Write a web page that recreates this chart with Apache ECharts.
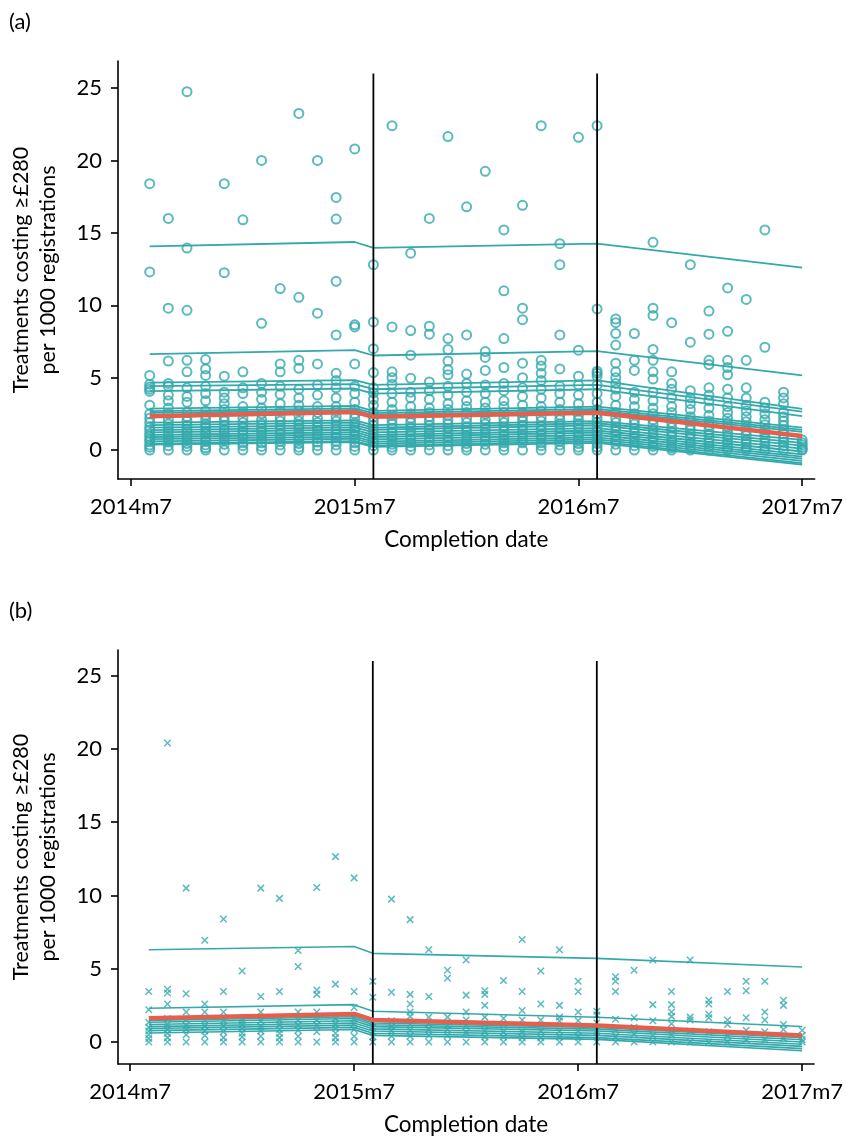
<!DOCTYPE html>
<html><head><meta charset="utf-8">
<script src="https://cdn.jsdelivr.net/npm/echarts@6/dist/echarts.min.js"></script>
<style>html,body{margin:0;padding:0;background:#fff}#c{width:846px;height:1137px}</style>
</head><body><div id="c"></div>
<script>
// ---- axis / tick data ----
const xTickValues = [0, 12, 24, 36];
const xTickLabels = ['2014m7', '2015m7', '2016m7', '2017m7'];
const yTickValues = [0, 5, 10, 15, 20, 25];
const knotMonths = [1, 12, 13, 25, 36];        // 2014m8, 2015m7, 2015m8, 2016m8, 2017m7
const interventionMonths = [13, 25];           // 2015m8, 2016m8
const vlineTop = 26;

// ---- panel (a): monthly observed values (month 1 = 2014m8 ... month 36 = 2017m7) ----
const obsA = [
  [18.4,12.3,5.15,4.55,4.35,4.2,4.05,3.1,2.5,2.2,1.9,1.6,1.4,1.15,0.95,0.75,0.6,0.35,0.2,0],
  [16.0,9.8,6.15,4.6,4.4,3.8,3.4,2.9,2.5,2.1,1.8,1.5,1.3,1.0,0.8,0.55,0.3,0],
  [24.75,13.95,9.65,6.2,5.4,4.3,3.7,3.3,2.6,2.3,2.0,1.7,1.45,1.2,0.95,0.7,0.45,0.25,0],
  [6.25,5.6,5.15,4.4,3.9,3.4,2.7,2.4,2.1,1.8,1.55,1.3,1.1,0.85,0.6,0.35,0.15,0],
  [18.4,12.25,5.1,4.0,3.6,3.2,2.8,2.3,2.0,1.7,1.4,1.2,0.9,0.65,0.4,0],
  [15.9,5.4,4.3,3.9,3.0,2.6,2.2,1.9,1.6,1.3,1.05,0.8,0.5,0.3,0],
  [20.0,8.75,4.6,4.0,3.5,2.9,2.5,2.1,1.8,1.5,1.25,1.0,0.75,0.5,0.25,0],
  [11.15,5.95,5.4,4.4,3.85,3.2,2.7,2.3,2.0,1.7,1.4,1.1,0.85,0.6,0.35,0],
  [23.25,10.55,6.2,5.65,4.2,3.6,3.1,2.7,2.4,2.0,1.75,1.5,1.2,0.95,0.7,0.45,0.2,0],
  [20.0,9.45,5.95,4.5,3.8,3.0,2.6,2.2,1.9,1.6,1.35,1.1,0.8,0.55,0.3,0],
  [17.45,15.95,11.65,7.95,5.3,4.8,4.3,3.6,3.0,2.7,2.3,2.0,1.7,1.4,1.1,0.85,0.6,0.35,0],
  [20.8,8.65,8.5,5.95,4.4,3.9,3.3,2.8,2.5,2.2,1.85,1.55,1.3,1.0,0.75,0.5,0.25,0],
  [12.8,8.85,7.0,5.35,4.3,3.95,3.5,3.1,2.6,2.3,2.0,1.7,1.4,1.1,0.8,0.55,0.3,0],
  [22.4,8.5,5.4,5.0,4.55,3.9,3.3,2.8,2.4,2.1,1.8,1.5,1.2,0.95,0.7,0.4,0.2,0],
  [13.6,8.25,6.55,4.95,4.0,3.6,3.0,2.5,2.2,1.9,1.6,1.3,1.0,0.75,0.5,0.25,0],
  [16.0,8.55,8.0,4.7,4.1,3.5,2.9,2.6,2.3,2.0,1.7,1.4,1.15,0.9,0.6,0.35,0],
  [21.65,7.7,6.95,6.15,5.55,5.2,4.4,3.8,3.2,2.8,2.4,2.1,1.8,1.5,1.2,0.9,0.6,0.3,0],
  [16.8,7.95,5.25,4.6,4.0,3.4,3.0,2.6,2.2,1.9,1.6,1.3,1.0,0.7,0.45,0.2,0],
  [19.25,6.8,6.4,5.5,4.5,3.9,3.3,2.9,2.5,2.1,1.8,1.5,1.2,0.9,0.65,0.4,0],
  [15.2,11.0,7.7,5.7,4.6,4.1,3.4,3.0,2.6,2.2,1.9,1.6,1.3,1.0,0.75,0.5,0.25,0],
  [16.9,9.8,9.0,6.0,5.0,4.3,3.7,3.1,2.6,2.3,2.0,1.7,1.4,1.1,0.8,0.5,0],
  [22.4,6.2,5.8,5.3,4.8,4.2,3.6,3.0,2.7,2.3,2.0,1.65,1.35,1.05,0.8,0.5,0.3,0],
  [14.25,12.8,7.95,5.6,4.4,3.9,3.3,2.8,2.4,2.1,1.8,1.5,1.2,0.9,0.6,0.35,0],
  [21.6,6.9,5.1,4.5,3.8,3.2,2.7,2.4,2.1,1.8,1.5,1.2,0.95,0.7,0.45,0.2,0],
  [22.4,9.75,5.45,5.3,5.1,4.5,3.9,3.3,2.8,2.5,2.2,1.9,1.6,1.3,1.0,0.7,0.45,0.2,0],
  [9.05,8.8,8.05,7.25,6.0,5.4,5.0,4.6,4.2,3.7,3.1,2.6,2.2,1.9,1.6,1.3,1.0,0.7,0.4,0],
  [8.05,6.2,5.5,4.0,3.5,3.0,2.5,2.1,1.8,1.5,1.2,0.9,0.6,0.3,0],
  [14.35,9.8,9.3,6.95,6.2,5.4,4.9,4.0,3.4,2.9,2.5,2.1,1.8,1.45,1.15,0.85,0.55,0.25,0],
  [8.8,5.4,4.6,4.2,3.6,3.0,2.6,2.2,1.9,1.55,1.25,0.95,0.65,0.35,0.15,0],
  [12.8,7.45,4.1,3.6,3.2,2.8,2.3,2.0,1.7,1.4,1.1,0.8,0.5,0.25,0],
  [9.6,8.0,6.2,5.9,4.3,3.8,3.4,2.9,2.4,2.0,1.7,1.4,1.1,0.8,0.5,0.25,0],
  [11.2,8.2,6.2,5.7,5.2,4.2,3.6,3.0,2.6,2.2,1.9,1.6,1.3,1.0,0.7,0.45,0.2,0],
  [10.4,6.2,4.3,3.6,3.1,2.7,2.3,1.95,1.6,1.3,1.0,0.7,0.45,0.2,0],
  [15.2,7.1,3.3,2.9,2.5,2.1,1.75,1.4,1.1,0.8,0.5,0.25,0],
  [4.0,3.6,3.2,2.6,2.3,2.0,1.7,1.4,1.1,0.8,0.55,0.3,0],
  [0.7,0.5,0.35,0.2,0.05,0]
];
// fitted practice lines for (a), values at knotMonths
const fitA = [
  [14.07,14.37,13.96,14.26,12.6],
  [6.62,6.9,6.53,6.83,5.15],
  [4.65,4.83,4.5,4.81,2.85],
  [4.41,4.55,4.2,4.5,2.65],
  [4.07,4.25,3.9,4.2,2.35],
  [2.86,3.05,2.7,3.0,1.55],
  [2.69,2.88,2.55,2.85,1.4],
  [2.57,2.75,2.42,2.72,1.25],
  [1.89,2.05,1.72,2.0,0.7],
  [1.72,1.9,1.55,1.85,0.5],
  [1.55,1.72,1.4,1.7,0.3],
  [1.38,1.56,1.22,1.52,0.1],
  [1.22,1.4,1.05,1.35,-0.1],
  [1.05,1.23,0.9,1.2,-0.3],
  [0.9,1.08,0.74,1.04,-0.45],
  [0.75,0.92,0.58,0.88,-0.6],
  [0.6,0.78,0.44,0.74,-0.75],
  [0.45,0.62,0.3,0.6,-0.9],
  [0.38,0.55,0.22,0.5,-1.0]
];
const meanA = [2.34,2.62,2.3,2.57,0.97];

// ---- panel (b) ----
const obsB = [
  [3.45,2.2,1.35,1.0,0.75,0.5,0.25,0],
  [20.4,3.6,3.35,2.6,1.6,1.2,0.9,0.6,0.3,0],
  [10.5,3.3,2.05,1.55,1.15,0.85,0.5,0],
  [6.95,2.6,2.05,1.45,1.1,0.75,0.45,0],
  [8.4,3.45,2.05,1.45,1.1,0.7,0.3,0],
  [4.85,1.45,1.2,0.9,0.6,0.35,0],
  [10.5,3.1,2.05,1.45,1.05,0.75,0.4,0],
  [9.8,3.45,1.5,1.2,0.85,0.6,0.3,0],
  [6.25,5.15,2.05,1.5,1.15,0.8,0.4,0],
  [10.55,3.55,3.25,2.05,1.5,1.15,0.7,0],
  [12.65,3.95,1.6,1.25,0.95,0.6,0.3,0],
  [11.2,3.45,2.35,1.6,1.25,0.85,0.4,0],
  [4.15,3.05,1.3,1.0,0.7,0.35,0],
  [9.75,3.4,1.45,1.05,0.75,0.4,0],
  [8.35,3.25,2.6,2.05,1.75,1.2,0.8,0.4,0],
  [6.3,3.1,1.7,1.25,0.85,0.45,0],
  [4.9,4.35,1.7,1.15,0.85,0.45,0],
  [5.6,3.2,2.05,1.5,1.1,0.65,0],
  [3.5,3.25,2.5,1.7,1.2,0.75,0.35,0],
  [4.2,1.6,1.2,0.7,0.35,0],
  [7.0,3.45,2.15,1.5,0.7,0.3,0],
  [4.85,2.6,1.5,0.75,0.3,0],
  [6.3,2.5,1.7,1.45,0.75,0.35,0],
  [4.15,3.45,2.05,1.45,0.75,0.35,0],
  [2.1,1.85,1.3,0.75,0.4,0],
  [4.45,4.15,3.45,1.55,0.8,0.35,0],
  [4.9,1.65,1.0,0.55,0],
  [5.6,2.55,1.45,0.45,0],
  [3.45,2.55,2.05,1.75,1.25,0.5,0],
  [5.6,1.7,1.5,0.75,0],
  [2.85,2.6,1.9,1.65,0.7,0],
  [3.45,1.5,1.2,0.45,0],
  [4.15,3.5,1.65,0.8,0.15],
  [4.15,2.05,1.5,0.7,0.15],
  [2.85,2.5,1.2,0.85,0.25],
  [0.8,0.45,0.15,0]
];
const fitB = [
  [6.3,6.52,6.05,5.71,5.12],
  [2.3,2.55,2.1,1.69,1.06],
  [1.47,1.72,1.3,1.0,0.3],
  [1.35,1.6,1.18,0.88,0.15],
  [1.2,1.45,1.05,0.75,0.0],
  [1.05,1.3,0.9,0.6,-0.15],
  [0.92,1.15,0.75,0.45,-0.3],
  [0.78,1.0,0.6,0.3,-0.45],
  [0.62,0.85,0.45,0.18,-0.6]
];
const meanB = [1.62,1.92,1.51,1.13,0.45];

// ---- styling ----
const TEAL = '#33a9ac';
const RED = '#e4604e';
const FONT = 'Lato';
const panels = [
  {obs: obsA, fit: fitA, mean: meanA, grid: {left: 112, right: 30, top: 61, bottom: 658}, xmin: -0.7, xmax: 36.67, ymin: -2, ymax: 26.87, marker: 'circle', label: '(a)', labelTop: 11},
  {obs: obsB, fit: fitB, mean: meanB, grid: {left: 112, right: 31.5, top: 650, bottom: 70}, xmin: -0.65, xmax: 36.64, ymin: -1.5, ymax: 26.75, marker: 'cross', label: '(b)', labelTop: 600}
];

const option = {
  animation: false,
  backgroundColor: '#fff',
  textStyle: {fontFamily: FONT},
  grid: [], xAxis: [], yAxis: [], series: [], graphic: []
};

panels.forEach((p, i) => {
  option.grid.push(Object.assign({containLabel: false}, p.grid));
  option.xAxis.push({
    type: 'value', gridIndex: i, min: p.xmin, max: p.xmax,
    name: 'Completion date', nameLocation: 'middle', nameGap: 49,
    nameTextStyle: {fontFamily: FONT, fontSize: 22.5, color: '#000'},
    axisLine: {show: true, onZero: false, lineStyle: {color: '#000', width: 1.6}},
    axisTick: {show: true, length: 7, lineStyle: {color: '#000', width: 1.6}, customValues: xTickValues},
    axisLabel: {show: true, customValues: xTickValues, margin: 17, fontFamily: FONT, fontSize: 22, color: '#000',
      formatter: v => xTickLabels[xTickValues.indexOf(v)]},
    splitLine: {show: false}
  });
  option.yAxis.push({
    type: 'value', gridIndex: i, min: p.ymin, max: p.ymax,
    name: 'Treatments costing ≥£280\nper 1000 registrations', nameLocation: 'middle', nameGap: 56, nameRotate: 90,
    nameTextStyle: {fontFamily: FONT, fontSize: 21.5, color: '#000', lineHeight: 27, align: 'center'},
    axisLine: {show: true, onZero: false, lineStyle: {color: '#000', width: 1.6}},
    axisTick: {show: true, length: 7, lineStyle: {color: '#000', width: 1.6}, customValues: yTickValues},
    axisLabel: {show: true, customValues: yTickValues, margin: 16, fontFamily: FONT, fontSize: 22, color: '#000'},
    splitLine: {show: false}
  });
  const pts = [];
  p.obs.forEach((vals, mi) => vals.forEach(v => pts.push([mi + 1, v])));
  const isCircle = p.marker === 'circle';
  option.series.push({
    type: 'scatter', xAxisIndex: i, yAxisIndex: i, data: pts, z: 2,
    symbol: isCircle ? 'circle' : 'path://M0,0L10,10M10,0L0,10',
    symbolSize: isCircle ? 9 : 6.5,
    itemStyle: isCircle ? {color: 'rgba(0,0,0,0)', borderColor: TEAL, borderWidth: 2}
                        : {color: 'rgba(0,0,0,0)', borderColor: TEAL, borderWidth: 1.5},
    silent: true
  });
  p.fit.forEach(f => {
    option.series.push({
      type: 'line', xAxisIndex: i, yAxisIndex: i, z: 3, symbol: 'none', silent: true,
      data: knotMonths.map((m, k) => [m, f[k]]),
      lineStyle: {color: TEAL, width: isCircle ? 1.8 : 1.6}
    });
  });
  interventionMonths.forEach(m => {
    option.series.push({
      type: 'line', xAxisIndex: i, yAxisIndex: i, z: 4, symbol: 'none', silent: true,
      data: [[m, p.ymin], [m, vlineTop]],
      lineStyle: {color: '#000', width: 1.8}
    });
  });
  option.series.push({
    type: 'line', xAxisIndex: i, yAxisIndex: i, z: 5, symbol: 'none', silent: true,
    data: knotMonths.map((m, k) => [m, p.mean[k]]),
    lineStyle: {color: RED, width: 4.5}
  });
  option.graphic.push({
    type: 'text', left: 9, top: p.labelTop,
    style: {text: p.label, font: '22px Lato', fill: '#000'}
  });
});

const chart = echarts.init(document.getElementById('c'), null, {renderer: 'canvas'});
chart.setOption(option);
</script>
</body></html>
